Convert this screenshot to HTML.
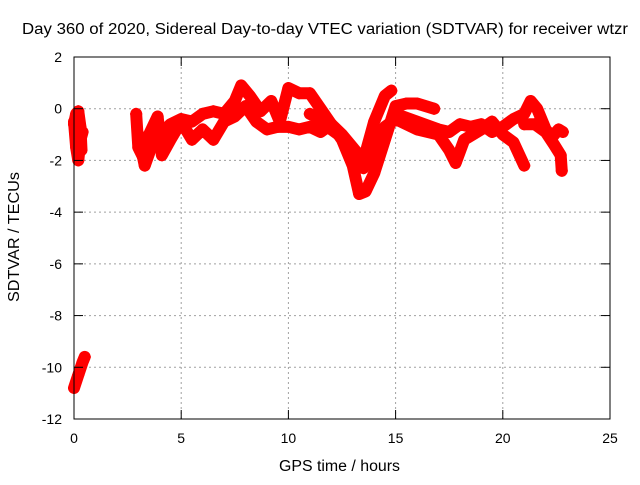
<!DOCTYPE html>
<html><head><meta charset="utf-8"><style>
body{margin:0;background:#fff;}
svg text{font-family:"Liberation Sans",sans-serif;font-size:14px;fill:#000;}
</style></head><body>
<svg id="chart" width="640" height="480" xmlns="http://www.w3.org/2000/svg">
<rect width="640" height="480" fill="#fff"/>
<g id="grid"></g>
<g id="marks"></g>
<rect x="74" y="57" width="536" height="362" fill="none" stroke="#000" stroke-width="1"/>
<g id="ticks"></g>
<text x="22" y="34" textLength="606" lengthAdjust="spacingAndGlyphs" style="font-size:15.5px">Day 360 of 2020, Sidereal Day-to-day VTEC variation (SDTVAR) for receiver wtzr</text>
<text x="279" y="471" textLength="121" lengthAdjust="spacingAndGlyphs" style="font-size:15.5px">GPS time / hours</text>
<text transform="translate(19,302) rotate(-90)" textLength="130" lengthAdjust="spacingAndGlyphs" style="font-size:15.5px">SDTVAR / TECUs</text>
</svg>
<script>
const xTicks=[0,5,10,15,20,25];
const yTicks=[2,0,-2,-4,-6,-8,-10,-12];
const track1=[[3.0,-1.0],[3.3,-2.2],[3.6,-1.5],[4.0,-1.0],[4.5,-0.6],[5.0,-0.4],[5.5,-0.5],[6.0,-0.2],[6.5,-0.1],[7.0,-0.2],[7.5,0.3],[7.8,0.9],[8.2,0.5],[8.7,-0.1],[9.2,0.3],[9.6,-0.5],[10.0,0.8],[10.5,0.6],[11.0,0.6],[11.5,0.0],[12.0,-0.6],[12.5,-1.2],[13.0,-2.2],[13.3,-3.3],[13.6,-3.2],[14.0,-2.5],[14.5,-1.2],[15.0,0.1],[15.5,0.2],[16.0,0.2],[16.8,0.0]];
const track2=[[2.9,-0.2],[3.0,-1.5],[3.3,-2.0],[3.5,-1.0],[3.9,-0.3],[4.1,-1.8],[4.5,-1.2],[5.0,-0.5],[5.5,-1.2],[6.0,-0.8],[6.5,-1.2],[7.0,-0.5],[7.5,-0.3],[8.0,0.1],[8.5,-0.5],[9.0,-0.8],[9.5,-0.7],[10.0,-0.7],[10.5,-0.8],[11.0,-0.7],[11.5,-0.9],[12.0,-0.6],[12.5,-1.0],[13.0,-1.5],[13.5,-2.0],[14.0,-0.5],[14.5,0.5],[14.8,0.7]];
const track3=[[11.0,-0.2],[11.5,-0.4],[12.0,-0.8],[12.5,-1.1],[13.0,-1.8],[13.5,-2.3],[14.0,-1.4],[14.5,-0.7],[15.0,-0.4],[16.0,-0.8],[17.0,-1.0],[17.5,-1.6],[17.8,-2.1],[18.2,-1.2],[19.0,-0.8],[19.5,-0.5],[20.0,-1.0],[20.5,-1.3],[21.0,-2.2]];
const track4=[[15.0,-0.2],[16.0,-0.5],[17.0,-0.8],[17.5,-0.9],[18.0,-0.6],[18.5,-0.7],[19.0,-0.6],[19.5,-0.9],[20.0,-0.7],[20.5,-0.4],[21.0,-0.2],[21.3,0.3],[21.6,0.0],[22.0,-0.8],[22.3,-1.1],[22.6,-0.8],[22.8,-0.9]];
const track5=[[21.0,-0.6],[21.5,-0.6],[22.0,-0.9],[22.4,-1.4],[22.7,-1.8],[22.75,-2.4]];
const track6=[[0.0,-0.5],[0.1,-1.5],[0.2,-2.0],[0.3,-1.2],[0.4,-0.9]];
const track7=[[0.0,-0.6],[0.1,-0.2],[0.2,-0.1],[0.3,-0.7],[0.35,-1.6]];
const track8=[[0.0,-10.8],[0.2,-10.3],[0.4,-9.8],[0.5,-9.6]];
const tracks=[track1,track2,track3,track4,track5,track6,track7,track8];
const NS="http://www.w3.org/2000/svg";
const X=h=>74+(h/25)*536;
const Y=v=>57+(2-v)/14*362;
const grid=document.getElementById('grid'),ticks=document.getElementById('ticks'),marks=document.getElementById('marks');
function mk(t,a,p){const e=document.createElementNS(NS,t);for(const k in a)e.setAttribute(k,a[k]);p.appendChild(e);return e;}
xTicks.forEach(t=>{
 if(t>0&&t<25){const g=mk('line',{x1:X(t),x2:X(t),y1:57,y2:419,stroke:'#a0a0a0','stroke-dasharray':'2,3'},grid);
 
 }
 mk('line',{x1:X(t),x2:X(t),y1:419,y2:410,stroke:'#000'},ticks);
 mk('line',{x1:X(t),x2:X(t),y1:57,y2:66,stroke:'#000'},ticks);
 const l=mk('text',{x:X(t),y:443,'text-anchor':'middle'},ticks);l.textContent=t;
 
 
});
yTicks.forEach(t=>{
 if(t<2&&t>-12){const g=mk('line',{x1:74,x2:610,y1:Y(t),y2:Y(t),stroke:'#a0a0a0','stroke-dasharray':'2,3'},grid);
 
 }
 mk('line',{x1:74,x2:83,y1:Y(t),y2:Y(t),stroke:'#000'},ticks);
 mk('line',{x1:601,x2:610,y1:Y(t),y2:Y(t),stroke:'#000'},ticks);
 const l=mk('text',{x:62,y:Y(t)+5,'text-anchor':'end'},ticks);l.textContent=t;
 
 
});
tracks.forEach((tr,i)=>{
 const p=mk('polyline',{points:tr.map(d=>X(d[0])+','+Y(d[1])).join(' '),fill:'none',stroke:'#ff0000','stroke-width':12,'stroke-linejoin':'round','stroke-linecap':'round'},marks);
 
 
 tr.forEach(d=>{
  const m=mk('path',{d:`M${X(d[0])-6},${Y(d[1])}h12M${X(d[0])},${Y(d[1])-6}v12`,stroke:'#ff0000','stroke-width':2},marks);
  
  
 });
});
</script>
</body></html>
